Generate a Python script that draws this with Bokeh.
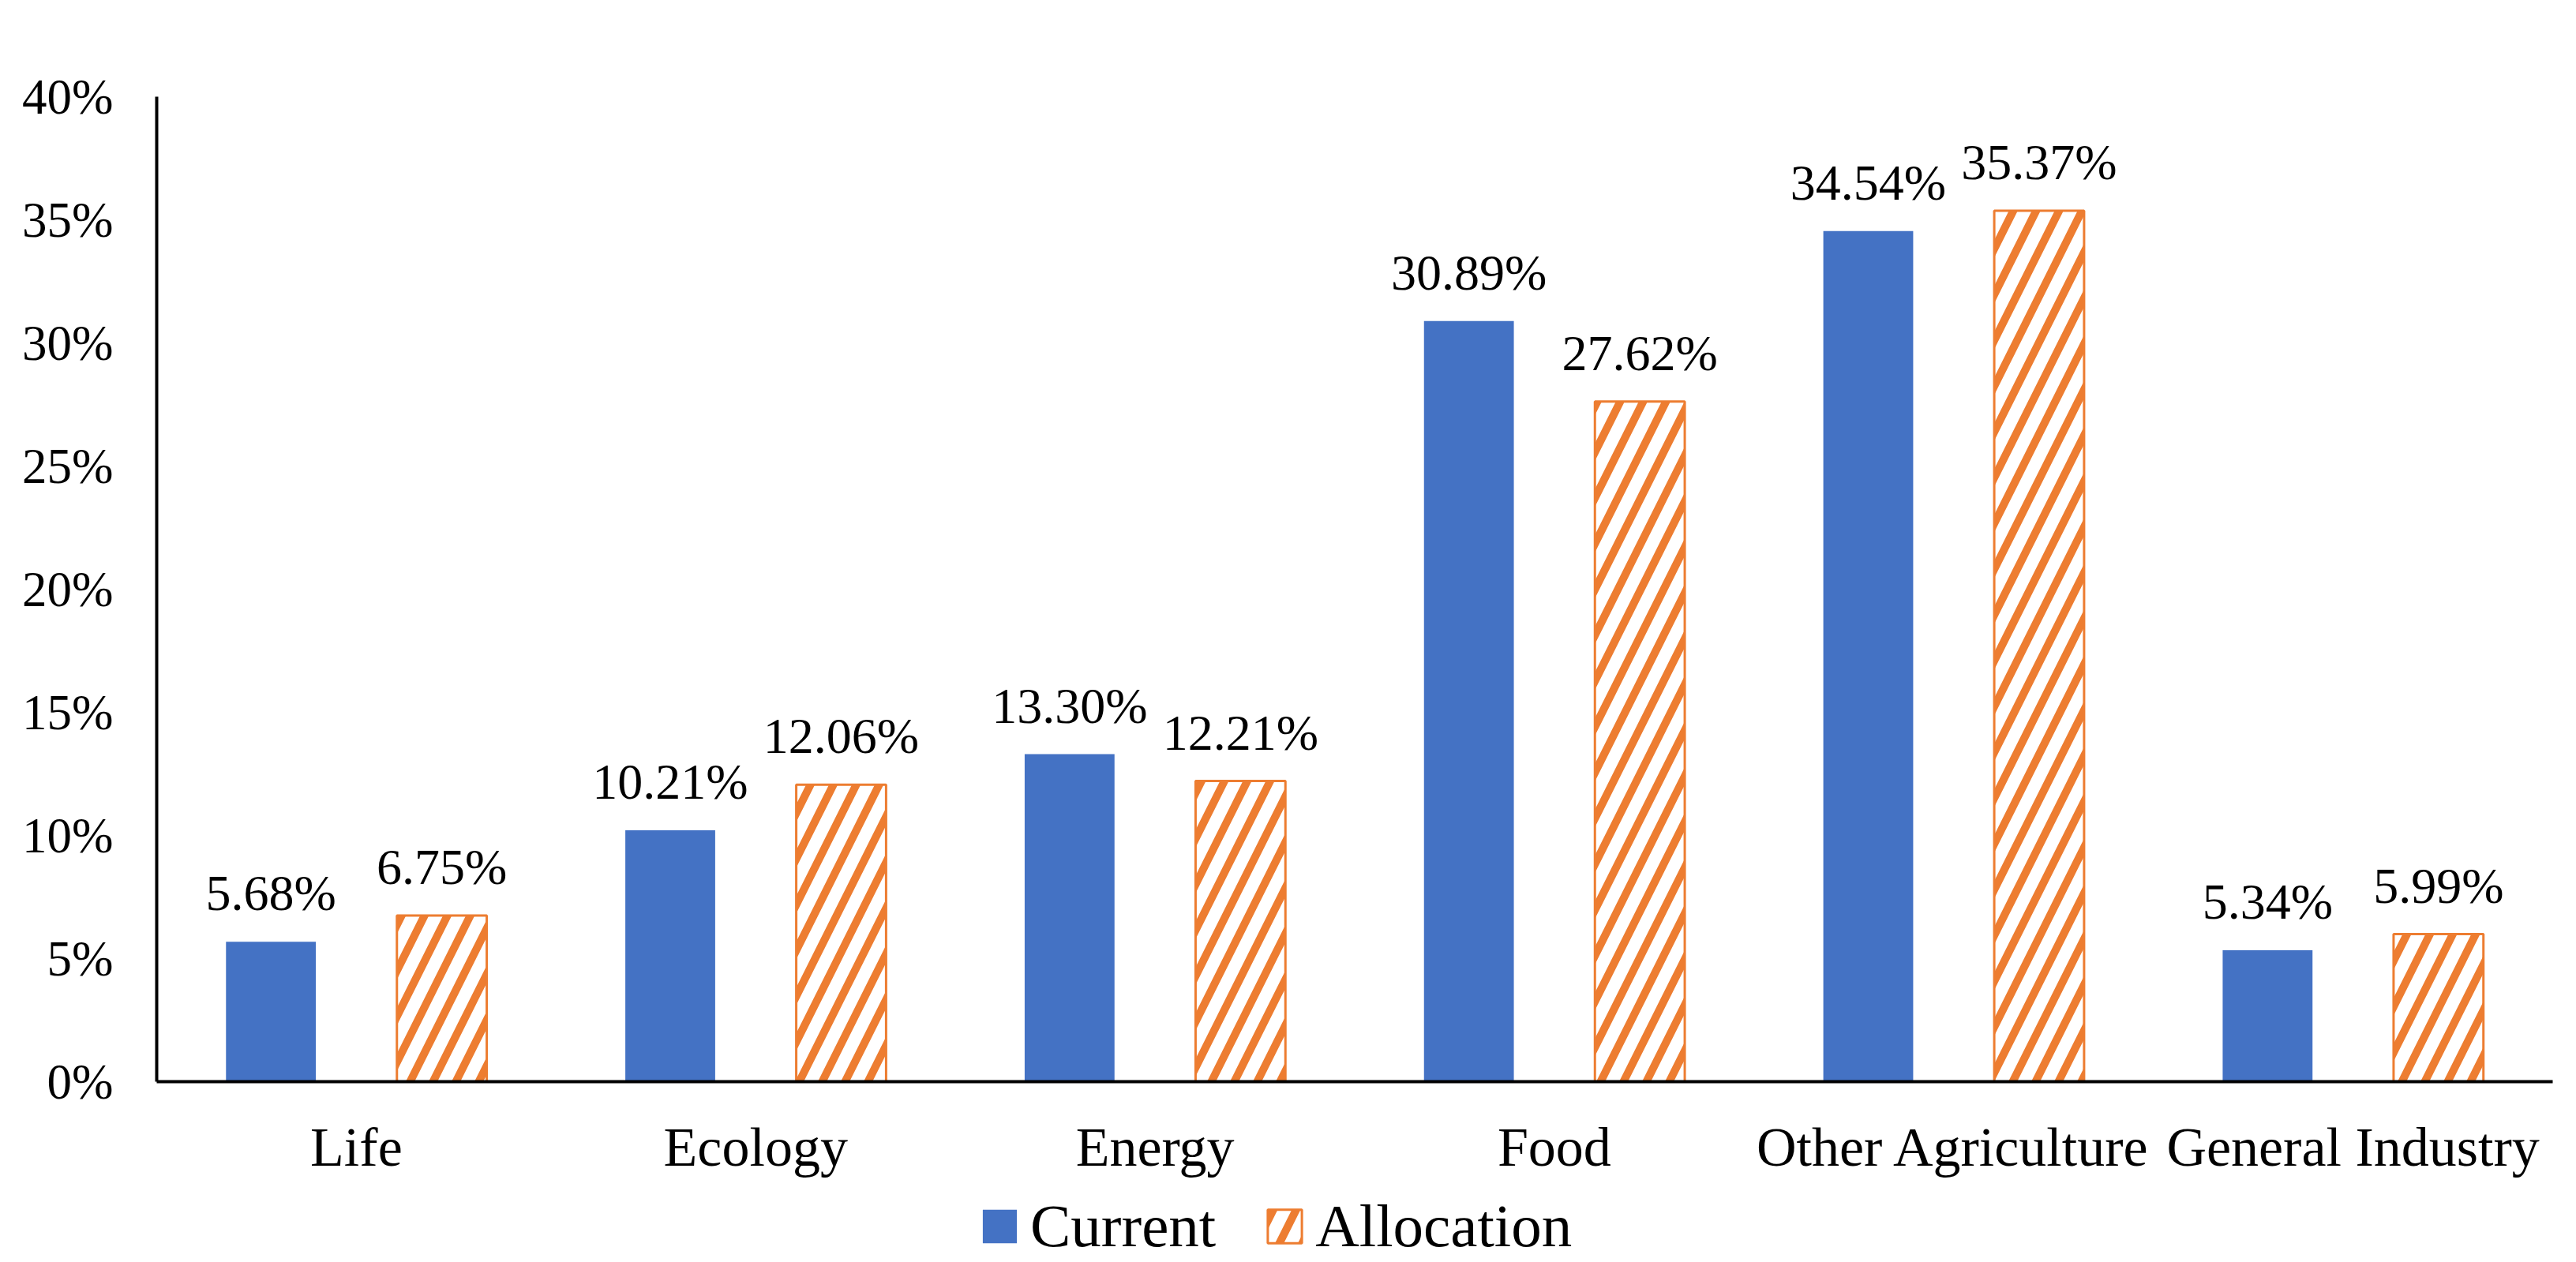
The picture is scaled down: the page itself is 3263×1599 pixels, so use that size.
from bokeh.plotting import figure
from bokeh.layouts import column
from bokeh.models import (ColumnDataSource, FactorRange, Range1d, FixedTicker,
                          PrintfTickFormatter, LabelSet, Legend, LegendItem)
from bokeh.transform import dodge
from bokeh.core.properties import value
from bokeh.embed import file_html
from bokeh.resources import INLINE

categories = ["Life", "Ecology", "Energy", "Food", "Other Agriculture", "General Industry"]
current = [5.68, 10.21, 13.30, 30.89, 34.54, 5.34]
allocation = [6.75, 12.06, 12.21, 27.62, 35.37, 5.99]
y_ticks = [0, 5, 10, 15, 20, 25, 30, 35, 40]
series_names = ["Current", "Allocation"]

FONT = "Liberation Serif"
BLUE = "#4472C4"
ORANGE = "#ED7D31"

src = ColumnDataSource(dict(
    cat=categories,
    cur=current,
    alloc=allocation,
    cur_lbl=[f"{v:.2f}%" for v in current],
    alloc_lbl=[f"{v:.2f}%" for v in allocation],
))

cur_style = dict(fill_color=BLUE, line_color=None)
alloc_style = dict(fill_color="white", line_color=ORANGE, line_width=3,
                   hatch_pattern="/", hatch_color=ORANGE, hatch_scale=58,
                   hatch_weight=10)

off = 0.214
bw = 0.225

p = figure(x_range=FactorRange(*categories), y_range=Range1d(0, 40),
           width=3247, height=1494, output_backend="svg", toolbar_location=None,
           min_border_left=198, min_border_right=14, min_border_top=122,
           min_border_bottom=122)
p.outline_line_color = None
p.xgrid.grid_line_color = None
p.ygrid.grid_line_color = None
p.background_fill_color = "white"
p.border_fill_color = "white"

r1 = p.vbar(x=dodge("cat", -off, range=p.x_range), top="cur", width=bw, source=src,
            **cur_style)
r2 = p.vbar(x=dodge("cat", off, range=p.x_range), top="alloc", width=bw, source=src,
            **alloc_style)

for col, lbl, o in (("cur", "cur_lbl", -off), ("alloc", "alloc_lbl", off)):
    ls = LabelSet(x=dodge("cat", o, range=p.x_range), y=col, text=lbl, source=src,
                  text_align="center", text_baseline="alphabetic", y_offset=40,
                  text_font=value(FONT), text_font_size="64px", text_color="black")
    p.add_layout(ls)

# axes
p.yaxis.ticker = FixedTicker(ticks=y_ticks)
p.yaxis.formatter = PrintfTickFormatter(format="%d%%")
for ax in (p.xaxis[0], p.yaxis[0]):
    ax.axis_line_color = "black"
    ax.axis_line_width = 4
    ax.major_tick_in = 0
    ax.major_tick_out = 0
    ax.minor_tick_in = 0
    ax.minor_tick_out = 0
    ax.major_label_text_font = FONT
    ax.major_label_text_color = "black"
p.yaxis.major_label_text_font_size = "63px"
p.yaxis.major_label_standoff = 55
p.xaxis.major_label_text_font_size = "70px"
p.xaxis.major_label_standoff = 44
p.xaxis.major_label_orientation = "horizontal"

# legend strip below the chart: same series as muted (fully transparent)
# renderers, so only their legend entries are visible
lf = figure(width=3247, height=105, output_backend="svg", toolbar_location=None,
            x_axis_type=None, y_axis_type=None,
            x_range=p.x_range, y_range=Range1d(1000, 1001),
            min_border=0, min_border_left=0, min_border_right=0,
            min_border_top=0, min_border_bottom=0)
lf.outline_line_color = None
lf.background_fill_color = "white"
lf.border_fill_color = "white"
d1 = lf.vbar(x=dodge("cat", -off, range=lf.x_range), top="cur", width=bw,
             source=src, muted_alpha=0, **cur_style)
d2 = lf.vbar(x=dodge("cat", off, range=lf.x_range), top="alloc", width=bw,
             source=src, muted_alpha=0, **alloc_style)
d1.muted = True
d2.muted = True

legend = Legend(items=[LegendItem(label=series_names[0], renderers=[d1]),
                       LegendItem(label=series_names[1], renderers=[d2])],
                orientation="horizontal", location=(1041, 1),
                glyph_width=54, glyph_height=53, label_standoff=12, spacing=60,
                padding=0, margin=0, border_line_color=None,
                background_fill_alpha=0, click_policy="none",
                label_text_font=FONT, label_text_font_size="77px",
                label_text_color="black")
lf.add_layout(legend, "center")

layout = column(p, lf, spacing=0)
open("out.html", "w").write(file_html(layout, INLINE))
